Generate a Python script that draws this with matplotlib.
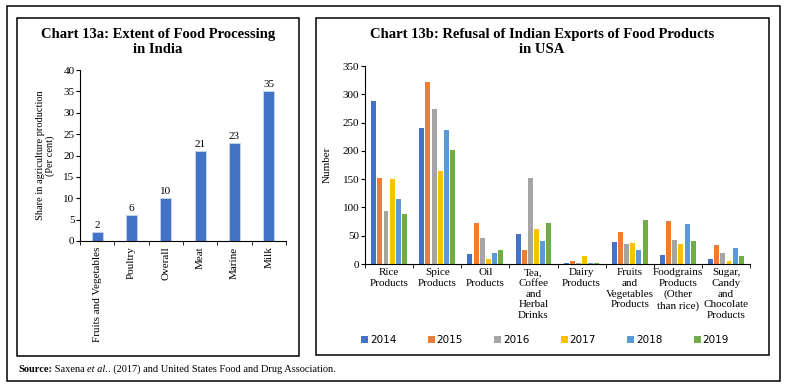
import numpy as np
import matplotlib.pyplot as plt
from matplotlib.patches import Rectangle
from matplotlib.text import Annotation

W, H = 788, 390

# Chart 13a data
proc_cats = ['Fruits and Vegetables', 'Poultry', 'Overall', 'Meat', 'Marine', 'Milk']
proc_share = [2, 6, 10, 21, 23, 35]

# Chart 13b data
refusal_cats = ['Rice\nProducts', 'Spice\nProducts', 'Oil\nProducts',
                'Tea,\nCoffee\nand\nHerbal\nDrinks', 'Dairy\nProducts',
                'Fruits\nand\nVegetables\nProducts',
                'Foodgrains\nProducts\n(Other\nthan rice)',
                'Sugar,\nCandy\nand\nChocolate\nProducts']
years = ['2014', '2015', '2016', '2017', '2018', '2019']
ref_2014 = [289, 241, 17, 53, 2, 39, 16, 9]
ref_2015 = [152, 321, 73, 25, 6, 56, 76, 33]
ref_2016 = [93, 274, 46, 152, 1, 36, 43, 20]
ref_2017 = [151, 164, 8, 62, 15, 38, 35, 6]
ref_2018 = [115, 237, 19, 41, 2, 25, 71, 29]
ref_2019 = [89, 202, 25, 73, 1, 78, 41, 15]
refusals = [ref_2014, ref_2015, ref_2016, ref_2017, ref_2018, ref_2019]
year_colors = ['#4472C4', '#ED7D31', '#A5A5A5', '#FFC000', '#5B9BD5', '#70AD47']

serif = 'Liberation Serif'
plt.rcParams['font.family'] = serif

fig = plt.figure(figsize=(W / 100, H / 100), dpi=100)


def px_rect(x0, y0, x1, y1):
    # pixel box (top-left origin) -> figure fraction [l, b, w, h]
    return [x0 / W, 1 - y1 / H, (x1 - x0) / W, (y1 - y0) / H]


def box(x0, y0, x1, y1):
    l, b, w, h = px_rect(x0, y0, x1, y1)
    fig.add_artist(Rectangle((l, b), w, h, transform=fig.transFigure,
                             fill=False, edgecolor='black', linewidth=1.1))


box(7, 6, 780, 381)
box(17, 18, 299, 356)
box(316, 18, 769, 355)

# ---- Chart 13a ----
ax1 = fig.add_axes(px_rect(80, 70, 286, 241))
x1 = np.arange(len(proc_cats))
ax1.bar(x1, proc_share, width=0.32, color='#4472C4', edgecolor='#c9d6ee', linewidth=0.6)
for xi, v in zip(x1, proc_share):
    ax1.text(xi, v + 0.5, str(v), ha='center', va='bottom', fontsize=8)
ax1.set_xlim(-0.5, len(proc_cats) - 0.5)
ax1.set_ylim(0, 40)
ax1.set_yticks(range(0, 41, 5))
ax1.set_xticks(x1)
ax1.set_xticklabels(proc_cats, rotation=90, fontsize=8)
ax1.set_xticks(np.arange(-0.5, len(proc_cats)), minor=True)
ax1.tick_params(axis='x', which='major', length=0, pad=4)
ax1.tick_params(axis='x', which='minor', length=3, direction='out')
ax1.tick_params(axis='y', labelsize=8, length=3, pad=1)
for s in ['top', 'right']:
    ax1.spines[s].set_visible(False)
ax1.set_ylabel('Share in agriculture production\n(Per cent)', fontsize=7.5, labelpad=6, linespacing=1.0)
fig.text(158 / W, 1 - 42 / H, 'Chart 13a: Extent of Food Processing\nin India', ha='center',
         va='center', fontsize=10.5, fontweight='bold', linespacing=1.2)

# ---- Chart 13b ----
ax2 = fig.add_axes(px_rect(365, 66, 750, 264))
x2 = np.arange(len(refusal_cats))
slot = 0.128
for i, (yr, vals, c) in enumerate(zip(years, refusals, year_colors)):
    ax2.bar(x2 + (i - 2.5) * slot, vals, width=slot * 0.8, color=c, label=yr)
ax2.set_xlim(-0.5, len(refusal_cats) - 0.5)
ax2.set_ylim(0, 350)
ax2.set_yticks(range(0, 351, 50))
ax2.set_xticks(x2)
ax2.set_xticklabels(refusal_cats, fontsize=8, linespacing=1.25, va='top')
ax2.set_xticks(np.arange(-0.5, len(refusal_cats)), minor=True)
ax2.tick_params(axis='x', which='major', length=0, pad=3)
ax2.tick_params(axis='x', which='minor', length=3, direction='out')
ax2.tick_params(axis='y', labelsize=8, length=3, pad=1)
for s in ['top', 'right']:
    ax2.spines[s].set_visible(False)
ax2.set_ylabel('Number', fontsize=8, labelpad=8)
fig.text(542 / W, 1 - 42 / H, 'Chart 13b: Refusal of Indian Exports of Food Products\nin USA',
         ha='center', va='center', fontsize=10.5, fontweight='bold', linespacing=1.2)

handles, labels = ax2.get_legend_handles_labels()
fig.legend(handles, labels, loc='center', ncol=6, bbox_to_anchor=(545 / W, 1 - 340 / H),
           frameon=False, handlelength=0.7, handleheight=0.7,
           handletextpad=0.15, columnspacing=3.0, prop={'family': 'DejaVu Sans', 'size': 7.5})

# source line, pieces chained one after another
prev = fig.text(18 / W, 1 - 372 / H, 'Source:', fontsize=7.5, fontweight='bold', va='baseline')
for piece, style in [(' Saxena ', 'normal'), ('et al.', 'italic'),
                     ('. (2017) and United States Food and Drug Association.', 'normal')]:
    ann = Annotation(piece, xy=(1, 0), xycoords=prev, va='bottom', ha='left',
                     fontsize=7.5, style=style)
    fig.add_artist(ann)
    prev = ann

fig.savefig('out.png', dpi=100)
